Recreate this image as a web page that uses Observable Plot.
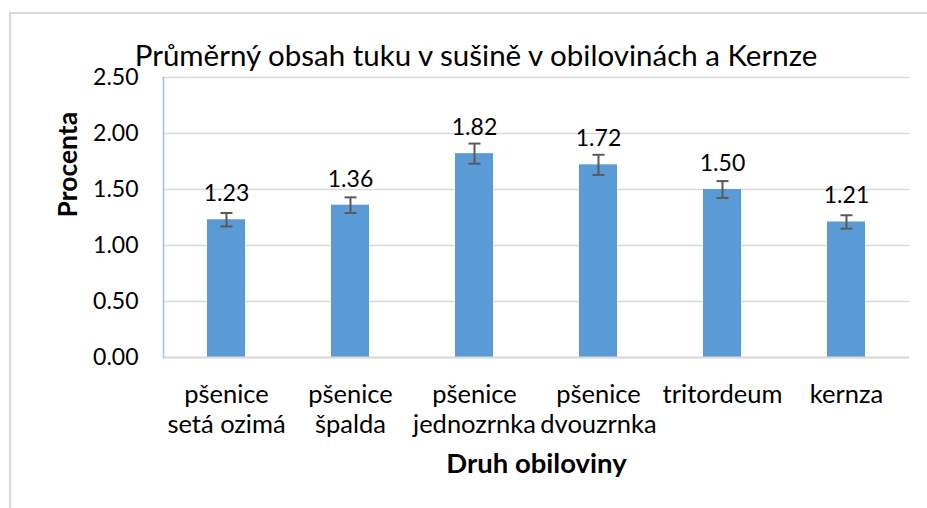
<!DOCTYPE html>
<html>
<head>
<meta charset="utf-8">
<script src="https://cdn.jsdelivr.net/npm/d3@7"></script>
<script src="https://cdn.jsdelivr.net/npm/@observablehq/plot@0.6"></script>
<style>
  html, body { margin: 0; padding: 0; background: #fff; overflow: hidden; }
  #wrap { position: relative; width: 927px; height: 508px; font-family: Lato, "Open Sans", sans-serif; }
  #border { position: absolute; left: 9px; top: 12px; width: 960px; height: 540px; border: 2px solid #d9d9d9; box-sizing: border-box; }
  #title { position: absolute; left: 76px; width: 800px; top: 38px; text-align: center; font-size: 29.5px; line-height: 34px; color: #000; white-space: nowrap; }
  #chart { position: absolute; left: 0; top: 65px; }
</style>
</head>
<body>
<div id="wrap">
  <div id="border"></div>
  <div id="title">Průměrný obsah tuku v sušině v obilovinách a Kernze</div>
  <div id="chart"></div>
</div>
<script>
const categories = ["pšenice\nsetá ozimá", "pšenice\nšpalda", "pšenice\njednozrnka", "pšenice\ndvouzrnka", "tritordeum", "kernza"];
const values = [1.23, 1.36, 1.82, 1.72, 1.50, 1.21];
const errors = [0.06, 0.07, 0.09, 0.09, 0.075, 0.06];
const yTicks = [0, 0.5, 1.0, 1.5, 2.0, 2.5];
const xTitle = "Druh obiloviny";
const yTitle = "Procenta";

const data = categories.map((c, i) => ({cat: c, v: values[i], lo: values[i] - errors[i], hi: values[i] + errors[i]}));
const font = "Lato, 'Open Sans', sans-serif";

// horizontal cap symbol for error bars
const capSymbol = {
  draw(context, size) {
    const w = Math.sqrt(size / Math.PI);
    context.moveTo(-w, 0);
    context.lineTo(w, 0);
  }
};

const chart = Plot.plot({
  width: 927,
  height: 443,
  marginLeft: 163,
  marginRight: 18,
  marginTop: 12,
  marginBottom: 151,
  style: {fontFamily: font, fontSize: "23px", color: "#000", background: "transparent", overflow: "visible"},
  x: {domain: categories, paddingInner: 0.69, paddingOuter: 0.345, axis: null},
  y: {domain: [0, 2.5], axis: null},
  marks: [
    Plot.gridY(yTicks, {stroke: "#d9d9d9", strokeOpacity: 1, strokeWidth: 1.5}),
    Plot.axisY(yTicks, {tickSize: 0, tickPadding: 25, tickFormat: d3.format(".2f"), fontSize: 23, label: null}),
    Plot.barY(data, {x: "cat", y: "v", fill: "#5b9bd5"}),
    Plot.ruleY([0], {stroke: "#d9d9d9", strokeWidth: 2}),
    Plot.ruleX(data, {x: "cat", y1: "lo", y2: "hi", stroke: "#595959", strokeWidth: 2}),
    Plot.dot(data, {x: "cat", y: "lo", symbol: capSymbol, r: 6, stroke: "#595959", strokeWidth: 2, fill: "none"}),
    Plot.dot(data, {x: "cat", y: "hi", symbol: capSymbol, r: 6, stroke: "#595959", strokeWidth: 2, fill: "none"}),
    Plot.frame({anchor: "left", stroke: "#9dc3e6", strokeWidth: 1.5}),
    Plot.text(data, {x: "cat", y: "v", text: d => d.v.toFixed(2), dy: -26, fontSize: 23, fill: "#000"}),
    Plot.text(data, {x: "cat", text: "cat", frameAnchor: "bottom", lineAnchor: "top", dy: 24, lineHeight: 1.176, fontSize: 25.5, fill: "#000"}),
    Plot.text([xTitle], {frameAnchor: "bottom", dy: 115, fontWeight: "bold", fontSize: 27.5, fill: "#000"}),
    Plot.text([yTitle], {frameAnchor: "left", rotate: -90, dx: -95, fontWeight: "bold", fontSize: 26.5, fill: "#000"})
  ]
});
document.getElementById("chart").appendChild(chart);
</script>
</body>
</html>
